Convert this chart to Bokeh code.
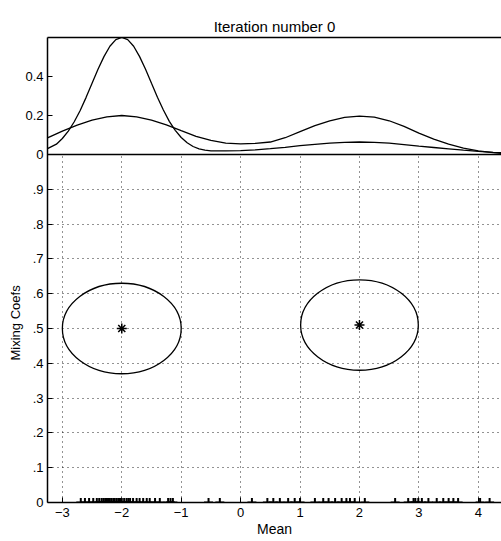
from bokeh.plotting import figure
from bokeh.models import Range1d, FixedTicker, LinearAxis, Span, BoxAnnotation, Title
from bokeh.embed import file_html
from bokeh.resources import INLINE

# ---------------- data ----------------
x_ticks = [-3, -2, -1, 0, 1, 2, 3, 4]
x_tick_labels = ["\u22123", "\u22122", "\u22121", "0", "1", "2", "3", "4"]
mix_ticks = [0, 0.1, 0.2, 0.3, 0.4, 0.5, 0.6, 0.7, 0.8, 0.9]
mix_tick_labels = ["0", ".1", ".2", ".3", ".4", ".5", ".6", ".7", ".8", ".9"]
dens_ticks = [0, 0.2, 0.4]
dens_tick_labels = ["0", "0.2", "0.4"]

# component means, mixing coefficients and ellipse extents
comp_mean = [-2.0, 2.0]
comp_mix = [0.50, 0.51]
comp_width = [2.0, 1.98]
comp_height = [0.26, 0.26]

# data points along the Mean axis
data_x = [-2.69, -2.62, -2.55, -2.48, -2.42, -2.38, -2.34, -2.31, -2.28, -2.25,
          -2.23, -2.20, -2.17, -2.14, -2.12, -2.09, -2.06, -2.03, -2.00, -1.96,
          -1.92, -1.89, -1.86, -1.81, -1.75, -1.70, -1.64, -1.58, -1.53, -1.44,
          -1.36, -1.22, -1.18, -1.14, -0.54, -0.35, 0.19, 0.45, 0.55, 0.66,
          0.80, 0.91, 1.00, 1.25, 1.39, 1.48, 1.59, 1.70, 1.78, 1.84,
          1.92, 2.09, 2.60, 2.82, 2.91, 2.94, 2.99, 3.05, 3.16, 3.30,
          3.41, 3.50, 3.58, 3.66, 4.03, 4.19]

# tall density curve (top panel)
true_x = [-3.25, -3.1, -3.0, -2.9, -2.8, -2.7, -2.6, -2.5, -2.4, -2.3, -2.2, -2.1,
          -2.0, -1.9, -1.8, -1.7, -1.6, -1.5, -1.4, -1.3, -1.2, -1.1, -1.0, -0.9,
          -0.8, -0.7, -0.6, -0.5, -0.25, 0.0, 0.25, 0.5, 0.75, 1.0, 1.25, 1.5,
          1.75, 2.0, 2.25, 2.5, 2.75, 3.0, 3.25, 3.5, 3.75, 4.0, 4.25, 4.39]
true_dens = [0.030, 0.053, 0.082, 0.120, 0.168, 0.226, 0.293, 0.365, 0.437, 0.502,
             0.555, 0.589, 0.600, 0.589, 0.555, 0.502, 0.437, 0.365, 0.294, 0.228,
             0.170, 0.124, 0.087, 0.060, 0.041, 0.029, 0.022, 0.019, 0.019, 0.020,
             0.024, 0.030, 0.037, 0.045, 0.052, 0.058, 0.062, 0.064, 0.062, 0.058,
             0.051, 0.043, 0.036, 0.029, 0.022, 0.016, 0.011, 0.009]

# broad model density curve (top panel)
model_x = [-3.25, -3.0, -2.75, -2.5, -2.25, -2.0, -1.75, -1.5, -1.25, -1.0, -0.75,
           -0.5, -0.25, 0.0, 0.25, 0.5, 0.75, 1.0, 1.25, 1.5, 1.75, 2.0, 2.25, 2.5,
           2.75, 3.0, 3.25, 3.5, 3.75, 4.0, 4.25, 4.39]
model_dens = [0.085, 0.120, 0.151, 0.176, 0.193, 0.200, 0.193, 0.176, 0.152, 0.122,
              0.093, 0.072, 0.058, 0.054, 0.057, 0.064, 0.086, 0.117, 0.148, 0.173,
              0.190, 0.197, 0.192, 0.173, 0.144, 0.110, 0.079, 0.053, 0.033, 0.019,
              0.010, 0.006]

# ---------------- layout constants ----------------
FONT = "Liberation Sans"
X_START, X_END = -3.25, 4.39
DENS_MAX = 0.6
FRAME_TOP, FRAME_BOTTOM = 37, 502          # whole frame, pixels
MAIN_PX = 348                              # pixels of the lower (mixing) panel
Y_END = (FRAME_BOTTOM - FRAME_TOP) / MAIN_PX
K = (Y_END - 1.0) / DENS_MAX               # main units per density unit

p = figure(width=501, height=541, output_backend="svg", toolbar_location=None,
           x_range=Range1d(X_START, X_END), y_range=Range1d(0, Y_END),
           min_border_left=47, min_border_right=0, min_border_top=FRAME_TOP,
           min_border_bottom=541 - FRAME_BOTTOM, title="Iteration number 0")
p.extra_y_ranges = {"dens": Range1d(-1.0 / K, DENS_MAX)}
p.outline_line_color = None
p.background_fill_color = "white"

p.title.text_font = FONT
p.title.text_font_size = "15px"
p.title.text_font_style = "normal"
p.title.text_color = "black"
p.title.align = "center"
p.title.standoff = 6

# left axis: mixing coef ticks below, density ticks above the split
yax = p.yaxis[0]
left_ticks = mix_ticks + [1.0 + v * K for v in dens_ticks]
left_labels = mix_tick_labels + dens_tick_labels
yax.ticker = FixedTicker(ticks=left_ticks)
yax.major_label_overrides = {t: l for t, l in zip(left_ticks, left_labels)}

xax = p.xaxis[0]
xax.ticker = FixedTicker(ticks=x_ticks)
xax.major_label_overrides = {t: l for t, l in zip(x_ticks, x_tick_labels)}
xax.axis_label = "Mean"
xax.axis_label_standoff = 1

for ax in (xax, yax):
    ax.major_label_text_font = FONT
    ax.major_label_text_font_size = "13px"
    ax.major_label_text_color = "black"
    ax.major_tick_in = 5
    ax.major_tick_out = 0
    ax.minor_tick_in = 0
    ax.minor_tick_out = 0
    ax.axis_line_width = 1.5
    ax.axis_line_color = "black"
    ax.major_tick_line_color = "black"
    ax.axis_label_text_font = FONT
    ax.axis_label_text_font_size = "14px"
    ax.axis_label_text_font_style = "normal"
    ax.axis_label_text_color = "black"
xax.major_label_standoff = 5
yax.major_label_standoff = 4

# top border
top_axis = LinearAxis(ticker=FixedTicker(ticks=[]), axis_line_color="black",
                      axis_line_width=1.5, major_tick_in=0, major_tick_out=0,
                      minor_tick_in=0, minor_tick_out=0, major_label_standoff=0)
p.add_layout(top_axis, "above")

# y axis title for the lower panel
ylab = Title(text="Mixing Coefs", align="left", offset=142, text_font=FONT,
             text_font_size="13px", text_font_style="normal", text_color="black",
             standoff=0)
p.add_layout(ylab, "left")

# grid (dotted) for the lower panel only
for g, t in ((p.xgrid[0], x_ticks), (p.ygrid[0], mix_ticks)):
    g.ticker = FixedTicker(ticks=t)
    g.grid_line_color = "black"
    g.grid_line_dash = "1 4"
    g.grid_line_width = 1
    g.grid_line_alpha = 0.85

# blank the grid in the density panel and draw the split line
p.add_layout(BoxAnnotation(bottom=1.0, fill_color="white", fill_alpha=1.0,
                           line_color=None, level="underlay"))
p.add_layout(Span(location=1.0, dimension="width", line_color="black",
                  line_width=1.5))

# density curves
p.line(true_x, true_dens, y_range_name="dens", line_color="black", line_width=1.3)
p.line(model_x, model_dens, y_range_name="dens", line_color="black", line_width=1.3)

# mixture components
p.ellipse(x=comp_mean, y=comp_mix, width=comp_width, height=comp_height,
          fill_color=None, line_color="black", line_width=1.3)
p.scatter(comp_mean, comp_mix, marker="asterisk", size=10,
          line_color="black", line_width=1.5)

# data points
p.scatter(data_x, [0] * len(data_x), marker="cross", size=9,
          line_color="black", line_width=2)

open("out.html", "w").write(file_html(p, INLINE))
